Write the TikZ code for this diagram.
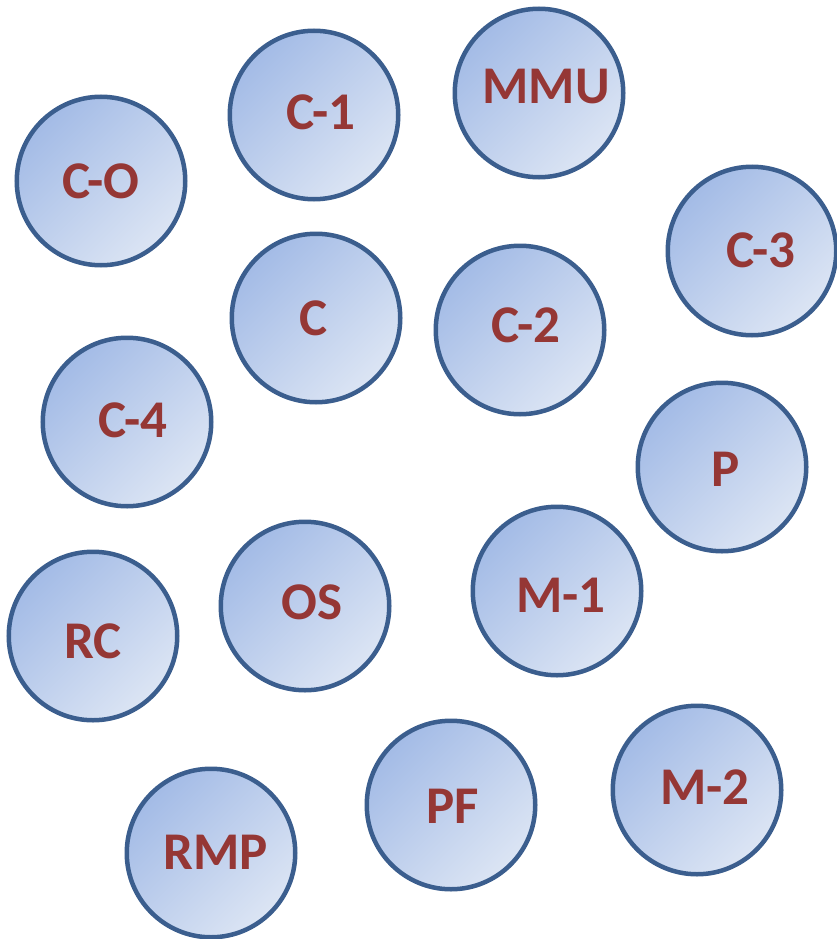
\documentclass[tikz,border=0pt]{standalone}
\usepackage{fontspec}
\setmainfont{Carlito}
\definecolor{ringblue}{HTML}{3B5E8E}
\definecolor{fillDark}{HTML}{A3BBE6}
\definecolor{fillLight}{HTML}{DCE5F4}
\definecolor{labelred}{HTML}{953735}
\tikzset{
  bubble/.style={circle, draw=ringblue, line width=4.5pt, minimum size=168.5pt,
    inner sep=0pt, top color=fillDark, bottom color=fillLight, shading angle=45},
  tag/.style={anchor=base, text=labelred, font=\fontsize{53}{53}\selectfont\bfseries, inner sep=0pt}
}
\begin{document}
\begin{tikzpicture}[x=1pt, y=-1pt]
\useasboundingbox (0,0) rectangle (836,939);
% circles
\node[bubble] (co)  at (101,181) {};
\node[bubble] (c1)  at (314,115) {};
\node[bubble] (mmu) at (539,93)  {};
\node[bubble] (c3)  at (752,251) {};
\node[bubble] (c)   at (316,318) {};
\node[bubble] (c2)  at (520,330) {};
\node[bubble] (c4)  at (127,422) {};
\node[bubble] (p)   at (722,467) {};
\node[bubble] (rc)  at (93,636)  {};
\node[bubble] (os)  at (305,606) {};
\node[bubble] (m1)  at (557,591) {};
\node[bubble] (pf)  at (451,805) {};
\node[bubble] (m2)  at (697,790) {};
\node[bubble] (rmp) at (211,853) {};
% labels
\node[tag] (tco)  at (101,198) {C-O};
\node[tag] (tc1)  at (321,130) {C-1};
\node[tag] (tmmu) at (546,104) {MMU};
\node[tag] (tc3)  at (761,267) {C-3};
\node[tag] (tc)   at (314,335) {C};
\node[tag] (tc2)  at (526,342) {C-2};
\node[tag] (tc4)  at (133,437) {C-4};
\node[tag] (tp)   at (726,486) {P};
\node[tag] (trc)  at (93,658)  {RC};
\node[tag] (tos)  at (312,619) {OS};
\node[tag] (tm1)  at (561,612) {M-1};
\node[tag] (tpf)  at (453,823) {PF};
\node[tag] (tm2)  at (705,804) {M-2};
\node[tag] (trmp) at (216,869) {RMP};
\end{tikzpicture}
\end{document}
